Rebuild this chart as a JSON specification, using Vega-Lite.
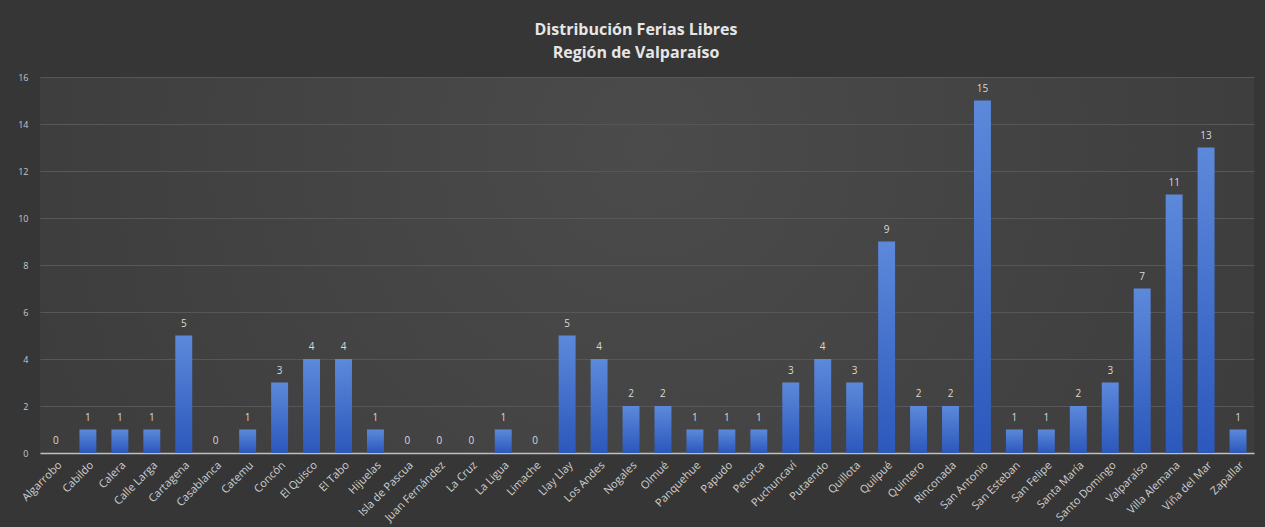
{
  "$schema": "https://vega.github.io/schema/vega-lite/v6.json",
  "autosize": {"type": "none"},
  "width": 1214,
  "height": 376,
  "padding": {"left": 40, "top": 77, "right": 11, "bottom": 74},
  "background": "#363636",
  "view": {
    "stroke": null,
    "fill": {"gradient": "radial", "x1": 0.5, "y1": 0.4, "x2": 0.5, "y2": 0.4, "r1": 0, "r2": 0.8,
      "stops": [{"offset": 0, "color": "#4b4b4b"}, {"offset": 1, "color": "#363636"}]}
  },
  "title": {
    "text": ["Distribución Ferias Libres", "Región de Valparaíso"],
    "anchor": "middle",
    "frame": "group",
    "dx": -11,
    "offset": 12,
    "font": "Open Sans",
    "fontSize": 16,
    "fontWeight": "bold",
    "color": "#e6e6e6",
    "lineHeight": 23,
    "limit": 0
  },
  "config": {"title": {"letterSpacing": 0.7}},
  "data": {
    "values": [
      {"comuna": "Algarrobo", "ferias": 0},
      {"comuna": "Cabildo", "ferias": 1},
      {"comuna": "Calera", "ferias": 1},
      {"comuna": "Calle Larga", "ferias": 1},
      {"comuna": "Cartagena", "ferias": 5},
      {"comuna": "Casablanca", "ferias": 0},
      {"comuna": "Catemu", "ferias": 1},
      {"comuna": "Concón", "ferias": 3},
      {"comuna": "El Quisco", "ferias": 4},
      {"comuna": "El Tabo", "ferias": 4},
      {"comuna": "Hijuelas", "ferias": 1},
      {"comuna": "Isla de Pascua", "ferias": 0},
      {"comuna": "Juan Fernández", "ferias": 0},
      {"comuna": "La Cruz", "ferias": 0},
      {"comuna": "La Ligua", "ferias": 1},
      {"comuna": "Limache", "ferias": 0},
      {"comuna": "Llay Llay", "ferias": 5},
      {"comuna": "Los Andes", "ferias": 4},
      {"comuna": "Nogales", "ferias": 2},
      {"comuna": "Olmué", "ferias": 2},
      {"comuna": "Panquehue", "ferias": 1},
      {"comuna": "Papudo", "ferias": 1},
      {"comuna": "Petorca", "ferias": 1},
      {"comuna": "Puchuncaví", "ferias": 3},
      {"comuna": "Putaendo", "ferias": 4},
      {"comuna": "Quillota", "ferias": 3},
      {"comuna": "Quilpué", "ferias": 9},
      {"comuna": "Quintero", "ferias": 2},
      {"comuna": "Rinconada", "ferias": 2},
      {"comuna": "San Antonio", "ferias": 15},
      {"comuna": "San Esteban", "ferias": 1},
      {"comuna": "San Felipe", "ferias": 1},
      {"comuna": "Santa María", "ferias": 2},
      {"comuna": "Santo Domingo", "ferias": 3},
      {"comuna": "Valparaíso", "ferias": 7},
      {"comuna": "Villa Alemana", "ferias": 11},
      {"comuna": "Viña del Mar", "ferias": 13},
      {"comuna": "Zapallar", "ferias": 1}
    ]
  },
  "encoding": {
    "x": {
      "field": "comuna", "type": "nominal", "sort": null,
      "scale": {"paddingInner": 0.47, "paddingOuter": 0.235},
      "axis": {
        "title": null, "labelAngle": -45, "labelFont": "Open Sans", "labelFontSize": 11,
        "labelColor": "#d0d0d0", "labelPadding": 6, "ticks": false,
        "domainColor": "#bfbfbf", "domainWidth": 1.5, "grid": false
      }
    },
    "y": {
      "field": "ferias", "type": "quantitative",
      "scale": {"domain": [0, 16]},
      "axis": {
        "title": null, "values": [0, 2, 4, 6, 8, 10, 12, 14, 16], "labelFont": "Open Sans",
        "labelFontSize": 9, "labelColor": "#c8c8c8", "labelPadding": 12, "ticks": false,
        "domain": false, "grid": true, "gridColor": "#575757", "gridWidth": 1
      }
    }
  },
  "layer": [
    {
      "mark": {
        "type": "bar",
        "color": {"gradient": "linear", "x1": 0, "y1": 0, "x2": 0, "y2": 1,
          "stops": [{"offset": 0, "color": "#5d89db"}, {"offset": 1, "color": "#2b58bb"}]}
      }
    },
    {
      "mark": {"type": "text", "baseline": "middle", "dy": -12, "font": "Open Sans", "fontSize": 10, "color": "#d9d9d9"},
      "encoding": {"text": {"field": "ferias", "type": "quantitative"}}
    }
  ]
}
